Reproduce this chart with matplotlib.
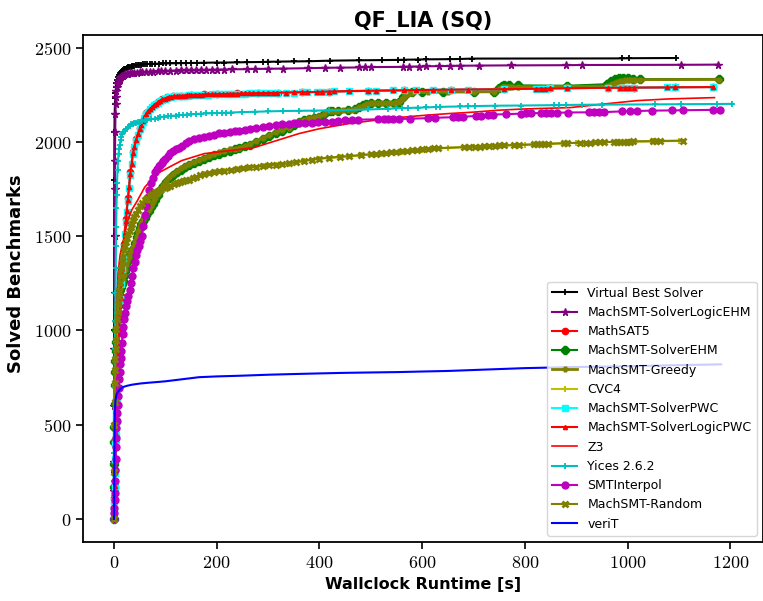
#!/usr/bin/env python3
# -*- coding: utf-8 -*-

import matplotlib
matplotlib.use("Agg")
import matplotlib.pyplot as plt
from matplotlib.ticker import FuncFormatter

# ----------------------------
# Data: (runtime [s], solved benchmarks)
# ----------------------------

vbs = [(0, 0), (0.1, 250), (0.2, 600), (0.3, 1000), (0.5, 1500), (0.7, 1800), (1, 2050),
       (1.5, 2150), (2, 2200), (2.5, 2235), (3, 2260), (4, 2290), (5, 2310), (6.5, 2330),
       (8, 2345), (10, 2356), (12, 2365), (14, 2372), (16, 2378), (18, 2382), (20, 2385),
       (22.5, 2389), (25, 2392), (27.5, 2395), (30, 2398), (32.5, 2400), (35, 2402), (37.5, 2404),
       (40, 2405), (43, 2407), (46, 2408), (49, 2409), (52, 2410), (56, 2411), (60, 2412),
       (65, 2413), (70, 2414), (75, 2414), (80, 2415), (87, 2415), (95, 2416), (102, 2416),
       (110, 2417), (120, 2417), (130, 2418), (140, 2418), (150, 2419), (162, 2419), (175, 2420),
       (200, 2421), (215, 2421), (240, 2422), (260, 2423), (290, 2424), (300, 2425), (320, 2426),
       (350, 2427), (380, 2428), (420, 2431), (478, 2433), (521, 2434), (552, 2435), (565, 2436),
       (592, 2437), (607, 2438), (654, 2439), (674, 2440), (697, 2442), (989, 2443), (1002, 2444),
       (1094, 2445)]

ehm_logic = [(0, 0), (0.3, 150), (0.5, 300), (0.7, 600), (1, 900), (1.2, 1200), (1.5, 1500),
             (1.8, 1750), (2, 1900), (2.5, 2050), (3, 2150), (3.5, 2200), (4, 2240), (5, 2270),
             (6, 2290), (7, 2305), (8, 2315), (9, 2323), (10, 2330), (11.5, 2337), (13, 2343),
             (15, 2348), (17, 2352), (19.5, 2355), (22, 2358), (25, 2360), (28, 2362), (31.5, 2364),
             (35, 2365), (40, 2367), (45, 2368), (50, 2369), (55, 2370), (62, 2371), (70, 2372),
             (77, 2373), (85, 2374), (92, 2375), (100, 2376), (110, 2377), (120, 2378), (130, 2379),
             (140, 2380), (150, 2380), (160, 2381), (170, 2381), (180, 2382), (190, 2382),
             (200, 2383), (215, 2384), (230, 2385), (260, 2386), (275, 2387), (300, 2388),
             (330, 2389), (377, 2391), (410, 2393), (440, 2394), (478, 2395), (489, 2396),
             (501, 2397), (562, 2398), (575, 2399), (593, 2400), (607, 2401), (633, 2402),
             (654, 2403), (673, 2404), (710, 2405), (772, 2406), (880, 2407), (911, 2408),
             (1104, 2409), (1175, 2410)]

mathsat = [(0, 0), (1, 110), (2, 260), (3, 410), (4, 510), (5, 590), (6, 660), (8, 860),
           (10, 1010), (13, 1180), (16, 1340), (19, 1460), (23, 1590), (27, 1700), (32, 1840),
           (37, 1945), (43, 2015), (50, 2072), (56, 2112), (63, 2152), (70, 2177), (78, 2197),
           (86, 2212), (94, 2226), (103, 2236), (115, 2241), (130, 2244), (150, 2249), (175, 2252),
           (200, 2254), (240, 2257), (280, 2259), (320, 2261), (366, 2264), (418, 2266),
           (495, 2271), (565, 2274), (656, 2277), (760, 2280), (848, 2284), (962, 2287),
           (1012, 2288), (1092, 2290), (1167, 2291)]

ehm_solver = [(0, 0), (0.3, 170), (0.5, 290), (0.8, 410), (1, 490), (1.5, 610), (2, 710),
              (2.5, 780), (3, 840), (3.5, 890), (4, 940), (5, 1000), (6, 1050), (7, 1090),
              (8, 1130), (9, 1160), (10, 1190), (11.5, 1212), (13, 1232), (15, 1246), (17, 1260),
              (19, 1288), (21, 1313), (23.5, 1338), (26, 1363), (28.5, 1383), (31, 1403),
              (34, 1418), (37, 1433), (40.5, 1463), (44, 1493), (47, 1518), (50, 1543),
              (53.5, 1563), (57, 1583), (60, 1598), (63, 1613), (67.5, 1633), (72, 1653),
              (76, 1673), (80, 1693), (85, 1718), (90, 1743), (96, 1765), (102, 1788),
              (108, 1805), (115, 1823), (122, 1838), (130, 1853), (138, 1865), (147, 1878),
              (156, 1888), (165, 1898), (175, 1908), (185, 1918), (195, 1928), (205, 1938),
              (215, 1946), (225, 1954), (235, 1960), (244, 1966), (255, 1976), (265, 1986),
              (277, 2000), (290, 2015), (302, 2030), (315, 2045), (328, 2058), (341, 2072),
              (350, 2089), (360, 2106), (370, 2115), (380, 2122), (390, 2127), (400, 2132),
              (409, 2148), (418, 2164), (425, 2165), (437, 2166), (455, 2167), (470, 2172),
              (478, 2186), (484, 2195), (490, 2201), (500, 2206), (515, 2207), (530, 2208),
              (545, 2209), (555, 2214), (563, 2236), (570, 2257), (580, 2263), (600, 2264),
              (640, 2265), (700, 2266), (740, 2267), (750, 2285), (755, 2298), (760, 2300),
              (770, 2300), (786, 2300), (882, 2298), (960, 2306), (968, 2322), (975, 2334),
              (983, 2338), (990, 2338), (1000, 2337), (1010, 2336), (1024, 2333), (1177, 2334)]

greedy = [(0, 0), (0.3, 180), (0.5, 300), (0.8, 420), (1, 500), (1.5, 620), (2, 720),
          (2.5, 790), (3, 850), (3.5, 900), (4, 950), (5, 1010), (6, 1060), (7, 1100), (8, 1140),
          (9, 1170), (10, 1200), (11.5, 1220), (13, 1240), (15, 1253), (17, 1266), (19, 1295),
          (21, 1320), (23.5, 1345), (26, 1370), (28.5, 1390), (31, 1410), (34, 1425), (37, 1440),
          (40.5, 1470), (44, 1500), (47, 1525), (50, 1550), (53.5, 1570), (57, 1590), (60, 1605),
          (63, 1620), (67.5, 1640), (72, 1660), (76, 1680), (80, 1700), (85, 1725), (90, 1750),
          (96, 1772), (102, 1795), (108, 1812), (115, 1830), (122, 1845), (130, 1860),
          (138, 1872), (147, 1885), (156, 1895), (165, 1905), (175, 1915), (185, 1925),
          (195, 1935), (205, 1945), (215, 1952), (225, 1960), (235, 1965), (244, 1970),
          (255, 1980), (265, 1990), (277, 2005), (290, 2020), (302, 2035), (315, 2050),
          (328, 2063), (341, 2076), (350, 2093), (360, 2110), (370, 2118), (380, 2125),
          (390, 2130), (400, 2135), (409, 2150), (418, 2166), (425, 2166), (430, 2166),
          (437, 2166), (445, 2167), (455, 2167), (464, 2168), (470, 2175), (478, 2185),
          (484, 2193), (490, 2200), (495, 2203), (500, 2205), (507, 2205), (515, 2206),
          (522, 2206), (530, 2207), (537, 2207), (545, 2208), (550, 2210), (555, 2212),
          (559, 2222), (563, 2235), (567, 2246), (570, 2256), (575, 2260), (580, 2262),
          (611, 2263), (650, 2264), (700, 2265), (740, 2266), (750, 2280), (753, 2285),
          (757, 2289), (760, 2290), (765, 2291), (770, 2292), (775, 2292), (786, 2293),
          (882, 2294), (960, 2296), (965, 2300), (970, 2308), (975, 2315), (980, 2320),
          (985, 2323), (990, 2325), (995, 2327), (1000, 2328), (1005, 2329), (1010, 2329),
          (1015, 2330), (1024, 2330), (1177, 2331)]

cvc4 = [(0, 0), (0.5, 240), (1, 490), (2, 710), (4, 940), (6, 1050), (8, 1130), (10, 1200),
        (13, 1280), (16, 1350), (19, 1415), (23, 1462), (28, 1505), (33, 1545), (37, 1580),
        (43, 1615), (50, 1655), (60, 1686), (70, 1712), (80, 1732), (90, 1742), (99, 1752),
        (110, 1765), (122, 1780), (135, 1790), (147, 1798), (160, 1810), (176, 1830),
        (195, 1838), (215, 1846), (240, 1855), (263, 1863), (290, 1871), (315, 1878),
        (341, 1884), (370, 1898), (400, 1910), (440, 1919), (480, 1928), (520, 1938),
        (560, 1948), (600, 1958), (650, 1969), (700, 1974), (750, 1980), (800, 1985),
        (850, 1990), (900, 1995), (950, 1999), (1000, 2001), (1050, 2003), (1100, 2005)]

pwc_solver = [(0, 0), (0.5, 45), (1, 95), (1.5, 170), (2, 245), (2.5, 320), (3, 395),
              (3.5, 445), (4, 495), (4.5, 535), (5, 575), (5.5, 610), (6, 645), (7, 745),
              (8, 845), (9, 920), (10, 995), (11.5, 1080), (13, 1165), (14.5, 1245), (16, 1325),
              (17.5, 1385), (19, 1445), (21, 1510), (23, 1575), (25, 1630), (27, 1686),
              (29.5, 1756), (32, 1826), (34.5, 1881), (37, 1936), (40, 1972), (43, 2007),
              (46.5, 2037), (50, 2067), (53, 2088), (56, 2108), (59.5, 2128), (63, 2148),
              (66.5, 2161), (70, 2173), (74, 2184), (78, 2194), (82, 2202), (86, 2209),
              (90, 2217), (94, 2224), (98.5, 2229), (103, 2234), (107, 2237), (112, 2239),
              (117, 2241), (122, 2242), (127, 2243), (133, 2244), (138, 2245), (142, 2246),
              (146, 2247), (150, 2248), (157, 2249), (165, 2250), (171, 2250), (178, 2251),
              (184, 2251), (190, 2252), (197, 2252), (205, 2253), (212, 2253), (220, 2254),
              (226, 2254), (232, 2255), (240, 2255), (248, 2256), (255, 2256), (262, 2257),
              (271, 2257), (280, 2258), (290, 2258), (300, 2259), (309, 2259), (318, 2260),
              (335, 2261), (350, 2262), (366, 2263), (376, 2264), (395, 2265), (405, 2266),
              (418, 2267), (428, 2268), (457, 2270), (495, 2271), (511, 2272), (544, 2273),
              (565, 2274), (588, 2275), (621, 2276), (656, 2277), (689, 2278), (760, 2280),
              (821, 2282), (831, 2283), (840, 2283), (848, 2284), (881, 2285), (962, 2287),
              (985, 2287), (995, 2288), (1003, 2288), (1012, 2288), (1076, 2289), (1092, 2290),
              (1167, 2291)]

pwc_logic = [(0, 0), (0.5, 50), (1, 100), (1.5, 175), (2, 250), (2.5, 325), (3, 400),
             (3.5, 450), (4, 500), (4.5, 540), (5, 580), (5.5, 615), (6, 650), (7, 750),
             (8, 850), (9, 925), (10, 1000), (11.5, 1085), (13, 1170), (14.5, 1250), (16, 1330),
             (17.5, 1390), (19, 1450), (21, 1515), (23, 1580), (25, 1635), (27, 1690),
             (29.5, 1760), (32, 1830), (34.5, 1885), (37, 1940), (40, 1975), (43, 2010),
             (46.5, 2040), (50, 2070), (53, 2090), (56, 2110), (59.5, 2130), (63, 2150),
             (66.5, 2163), (70, 2175), (74, 2185), (78, 2195), (82, 2203), (86, 2210),
             (90, 2218), (94, 2225), (98.5, 2230), (103, 2235), (107, 2238), (112, 2240),
             (117, 2242), (122, 2243), (127, 2244), (133, 2245), (138, 2246), (142, 2247),
             (146, 2248), (150, 2249), (157, 2250), (165, 2251), (171, 2251), (178, 2252),
             (184, 2252), (190, 2253), (197, 2253), (205, 2254), (212, 2254), (220, 2255),
             (226, 2255), (232, 2256), (240, 2256), (248, 2257), (255, 2257), (262, 2258),
             (271, 2258), (280, 2259), (290, 2259), (300, 2260), (309, 2260), (318, 2261),
             (335, 2262), (350, 2263), (366, 2264), (376, 2264), (395, 2265), (405, 2266),
             (418, 2267), (428, 2268), (457, 2270), (495, 2271), (511, 2272), (544, 2273),
             (565, 2274), (588, 2275), (621, 2276), (656, 2277), (689, 2278), (760, 2280),
             (821, 2282), (831, 2283), (840, 2283), (848, 2284), (881, 2285), (962, 2287),
             (985, 2287), (995, 2288), (1003, 2288), (1012, 2288), (1076, 2289), (1092, 2290),
             (1167, 2291)]

z3 = [(0, 0), (1, 200), (2, 450), (3, 700), (4, 900), (5, 1050), (6, 1160), (8, 1303),
      (12, 1400), (20, 1500), (27, 1584), (35, 1640), (46, 1690), (60, 1760), (85, 1833),
      (110, 1870), (132, 1901), (176, 1938), (230, 1955), (273, 1970), (320, 2010), (360, 2044),
      (400, 2070), (457, 2097), (500, 2112), (553, 2129), (600, 2140), (650, 2150), (700, 2158),
      (747, 2168), (800, 2175), (888, 2182), (950, 2200), (1018, 2219), (1080, 2228),
      (1169, 2235)]

yices = [(0, 0), (0.3, 120), (0.5, 200), (0.8, 350), (1, 500), (1.5, 700), (2, 900),
         (2.5, 1050), (3, 1200), (3.5, 1330), (4, 1450), (4.5, 1550), (5, 1650), (5.5, 1720),
         (6, 1780), (7, 1850), (8, 1900), (9, 1935), (10, 1960), (11.5, 1985), (13, 2010),
         (14.5, 2025), (16, 2040), (18.5, 2050), (21, 2060), (24, 2070), (27, 2080), (30.5, 2087),
         (34, 2093), (37, 2097), (40, 2100), (43, 2102), (46, 2103), (50, 2106), (55, 2110),
         (60, 2114), (65, 2117), (72, 2120), (79, 2124), (85, 2127), (90, 2130), (97, 2133),
         (105, 2136), (112, 2138), (120, 2140), (127, 2142), (135, 2143), (142, 2145),
         (150, 2146), (160, 2148), (170, 2150), (180, 2151), (190, 2152), (200, 2153),
         (210, 2154), (219, 2155), (228, 2156), (250, 2158), (275, 2160), (300, 2162),
         (330, 2164), (360, 2165), (390, 2166), (418, 2167), (495, 2172), (534, 2176),
         (550, 2178), (560, 2179), (573, 2180), (592, 2182), (608, 2183), (627, 2185),
         (634, 2186), (673, 2188), (689, 2189), (702, 2190), (741, 2192), (792, 2193),
         (857, 2195), (867, 2195), (880, 2196), (912, 2197), (951, 2198), (1054, 2199),
         (1103, 2200), (1174, 2201), (1203, 2202)]

interpol = [(0, 0), (0.5, 30), (1, 60), (1.5, 100), (2, 140), (2.5, 200), (3, 260), (3.5, 320),
            (4, 380), (4.5, 430), (5, 480), (5.5, 520), (6, 560), (7, 605), (8, 650), (9, 695),
            (10, 740), (11, 780), (12, 820), (13, 855), (14, 890), (15.5, 935), (17, 980),
            (18.5, 1020), (20, 1060), (22, 1095), (24, 1130), (26, 1155), (28, 1180),
            (30.5, 1215), (33, 1250), (35.5, 1290), (38, 1330), (40.5, 1365), (43, 1400),
            (45.5, 1425), (48, 1450), (51, 1475), (54, 1500), (57, 1555), (60, 1610),
            (63, 1660), (66, 1710), (69, 1745), (72, 1780), (76, 1810), (80, 1840), (83.5, 1855),
            (87, 1870), (90, 1880), (93, 1890), (96.5, 1900), (100, 1910), (105, 1925),
            (110, 1940), (115, 1950), (120, 1960), (126, 1970), (132, 1980), (140, 1993),
            (147, 2005), (156, 2013), (165, 2020), (175, 2027), (185, 2033), (195, 2039),
            (205, 2045), (215, 2049), (225, 2053), (235, 2057), (244, 2060), (255, 2065),
            (265, 2070), (277, 2075), (290, 2080), (302, 2085), (315, 2090), (328, 2094),
            (341, 2097), (350, 2099), (360, 2100), (372, 2101), (385, 2102), (398, 2103),
            (410, 2104), (424, 2108), (437, 2113), (450, 2116), (463, 2117), (476, 2118),
            (515, 2120), (525, 2121), (534, 2121), (544, 2122), (554, 2122), (576, 2123),
            (612, 2126), (625, 2128), (660, 2131), (670, 2132), (680, 2133), (705, 2138),
            (715, 2140), (728, 2143), (738, 2145), (763, 2147), (792, 2150), (802, 2151),
            (812, 2152), (831, 2153), (841, 2153), (851, 2154), (863, 2155), (883, 2156),
            (925, 2157), (934, 2157), (944, 2158), (954, 2158), (989, 2162), (1005, 2163),
            (1018, 2164), (1047, 2166), (1086, 2167), (1108, 2168), (1166, 2170), (1179, 2171)]

random_sel = [(0, 0), (0.5, 250), (1, 500), (1.5, 620), (2, 720), (2.5, 790), (3, 850),
              (3.5, 900), (4, 950), (5, 1010), (6, 1060), (7, 1100), (8, 1140), (9, 1175),
              (10, 1210), (11.5, 1250), (13, 1290), (14.5, 1325), (16, 1360), (17.5, 1392),
              (19, 1425), (21, 1448), (23, 1470), (25.5, 1490), (28, 1510), (30.5, 1530),
              (33, 1550), (35, 1567), (37, 1584), (40, 1602), (43, 1620), (46.5, 1640),
              (50, 1660), (55, 1675), (60, 1690), (65, 1703), (70, 1715), (75, 1725), (80, 1735),
              (85, 1740), (90, 1745), (99, 1755), (104, 1761), (110, 1768), (116, 1775),
              (122, 1782), (128, 1787), (135, 1792), (141, 1796), (147, 1800), (153, 1806),
              (160, 1812), (168, 1822), (176, 1832), (185, 1836), (195, 1840), (205, 1844),
              (215, 1848), (227, 1852), (240, 1857), (251, 1861), (263, 1865), (276, 1869),
              (290, 1873), (302, 1876), (315, 1880), (328, 1883), (341, 1886), (355, 1893),
              (370, 1900), (385, 1906), (400, 1912), (418, 1917), (440, 1921), (457, 1925),
              (480, 1930), (500, 1935), (510, 1937), (520, 1940), (530, 1942), (540, 1945),
              (550, 1947), (560, 1950), (570, 1952), (580, 1955), (590, 1957), (600, 1960),
              (612, 1963), (624, 1966), (631, 1967), (682, 1972), (692, 1973), (702, 1974),
              (712, 1975), (721, 1976), (731, 1978), (741, 1980), (750, 1981), (760, 1982),
              (779, 1983), (789, 1984), (818, 1987), (824, 1988), (831, 1989), (838, 1989),
              (844, 1990), (876, 1993), (882, 1994), (908, 1995), (918, 1996), (927, 1996),
              (937, 1997), (947, 1998), (953, 1999), (973, 2000), (979, 2000), (985, 2001),
              (992, 2001), (998, 2002), (1004, 2002), (1011, 2003), (1050, 2004), (1056, 2004),
              (1063, 2005), (1108, 2007)]

verit = [(0, 0), (0.5, 150), (1, 350), (1.5, 500), (2, 580), (3, 630), (5, 660), (8, 675),
         (12, 688), (17, 699), (25, 706), (35, 712), (50, 718), (65, 722), (83, 726), (100, 730),
         (130, 740), (166, 752), (200, 756), (250, 760), (300, 765), (341, 768), (400, 772),
         (450, 775), (500, 777), (553, 779), (600, 782), (650, 785), (700, 790), (750, 795),
         (800, 800), (850, 803), (900, 806), (950, 808), (1000, 810), (1050, 813), (1100, 816),
         (1182, 820)]

# ----------------------------
# Plotting
# ----------------------------

plt.rcParams["mathtext.fontset"] = "cm"

series = [
    ("Virtual Best Solver", vbs, dict(color="black", marker="+", ms=5, mew=1.3, lw=1.5)),
    ("MachSMT-SolverLogicEHM", ehm_logic, dict(color="purple", marker="*", ms=5.5, lw=1.5)),
    ("MathSAT5", mathsat, dict(color="red", marker="o", ms=4.5, lw=1.5)),
    ("MachSMT-SolverEHM", ehm_solver, dict(color="green", marker="8", ms=5.5, lw=1.5)),
    ("MachSMT-Greedy", greedy, dict(color="olive", marker="+", ms=5, mew=2.5, lw=2)),
    ("CVC4", cvc4, dict(color="y", marker="+", ms=5, mew=1.5, lw=1.5)),
    ("MachSMT-SolverPWC", pwc_solver, dict(color="cyan", marker="s", ms=4.5, lw=1.5)),
    ("MachSMT-SolverLogicPWC", pwc_logic, dict(color="red", marker="^", ms=3, lw=1.5)),
    ("Z3", z3, dict(color="red", lw=1.2)),
    ("Yices 2.6.2", yices, dict(color="c", marker="+", ms=5, mew=1.3, lw=1.5)),
    ("SMTInterpol", interpol, dict(color="m", marker="o", ms=5, lw=1.5)),
    ("MachSMT-Random", random_sel, dict(color="olive", marker="x", ms=4, mew=2, lw=1.5)),
    ("veriT", verit, dict(color="blue", lw=1.5)),
]

fig = plt.figure(figsize=(7.63, 6.01), dpi=100)
ax = fig.add_axes([0.1088, 0.0982, 0.891, 0.8436])

for name, points, style in series:
    t, n = zip(*points)
    ax.plot(t, n, label=name, **style)

ax.xaxis.set_major_formatter(FuncFormatter(lambda v, p: f"${v:g}$"))
ax.yaxis.set_major_formatter(FuncFormatter(lambda v, p: f"${v:g}$"))
ax.tick_params(labelsize=13, width=1.2, length=5)
for s in ax.spines.values():
    s.set_linewidth(1.3)

ax.set_title("QF_LIA (SQ)", fontsize=15, fontweight="bold")
ax.set_xlabel("Wallclock Runtime [s]", fontsize=11.5, fontweight="bold")
ax.set_ylabel("Solved Benchmarks", fontsize=13, fontweight="bold")
ax.yaxis.set_label_coords(-0.085, 0.53)
ax.legend(loc="lower right", fontsize=9)

fig.savefig("out.png", dpi=100)
